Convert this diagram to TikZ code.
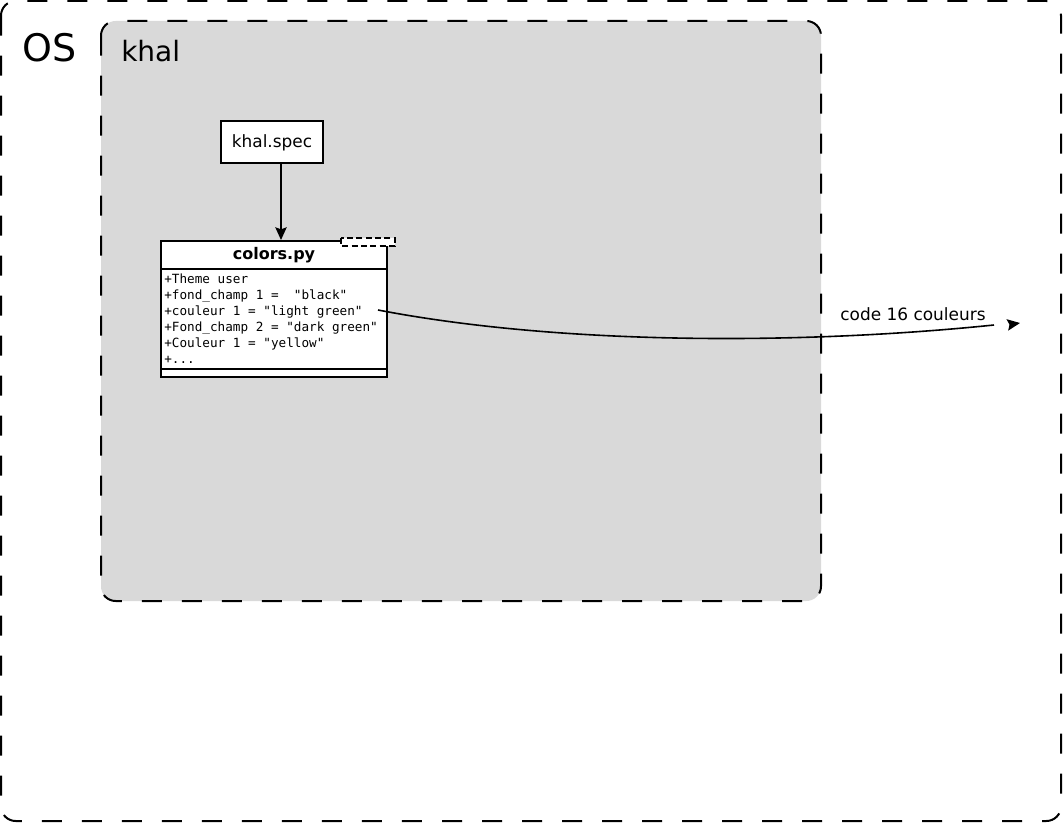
\documentclass[tikz,border=0pt]{standalone}
\usepackage{fontspec}
\setmainfont{DejaVu Sans}
\setmonofont{DejaVu Sans Mono}
\usetikzlibrary{arrows.meta,calc}
\definecolor{pkggray}{HTML}{D9D9D9}
\tikzset{
  frame/.style={line width=1.5pt,dash pattern=on 15pt off 15pt,rounded corners=11pt},
  box/.style={draw,fill=white,line width=1.5pt,inner sep=0pt},
  arr/.style={-{Stealth[length=9.5pt,width=8.5pt,inset=1.5pt]},line width=1.2pt}
}
\begin{document}
\begin{tikzpicture}[x=0.75pt,y=-0.75pt]
\useasboundingbox (0,0) rectangle (1064,824);
% OS and khal frames
\draw[frame] (1,1) rectangle (1061,821);
\draw[frame,fill=pkggray] (101,21) rectangle (821,601);
\node[anchor=base west,font=\fontsize{28.5}{34}\selectfont,inner sep=0pt] (os) at (22,62) {OS};
\node[anchor=base west,font=\fontsize{21}{25}\selectfont,inner sep=0pt] (khal) at (121,62) {khal};
% khal.spec
\node[box,minimum width=76.5pt,minimum height=31.5pt] (spec) at (272,142) {};
\node[anchor=base,inner sep=0pt,font=\fontsize{12.7}{15}\selectfont] (spectext) at (272,147) {khal.spec};
% colors.py class
\node[box,minimum width=169.5pt,minimum height=102pt] (colors) at (274,309) {};
\draw[line width=1.5pt] (colors.west |- 0,269) -- (colors.east |- 0,269);
\draw[line width=1.5pt] (colors.west |- 0,369) -- (colors.east |- 0,369);
\draw[line width=1.2pt,dash pattern=on 4.5pt off 2.5pt,fill=white] (341,238) rectangle (395,246);
\node[font=\bfseries\fontsize{12}{14}\selectfont,inner sep=0pt] (title) at (274,255) {colors.py};
\node[anchor=north west,align=left,inner sep=0pt,font=\ttfamily\fontsize{9.5}{12}\selectfont] (attrs) at (164,273.5) {%
+Theme user\\
+fond\_champ 1 =~~"black"\\
+couleur 1 = "light green"\\
+Fond\_champ 2 = "dark green"\\
+Couleur 1 = "yellow"\\
+...};
\draw[arr] (spec.south -| 281,0) -- (colors.north -| 281,0);
% output of the colours
\coordinate (start) at (378,310);
\coordinate (gap) at (994,325);
\coordinate (dest) at (1020,323);
\draw[line width=1.2pt] (start) .. controls (560,345) and (800,345) .. (gap);
\draw[arr] ($(dest)+(-2,0.3)$) -- (dest);
\node[font=\fontsize{12.7}{15}\selectfont,anchor=base] (code) at (913,320) {code 16 couleurs};
\end{tikzpicture}
\end{document}
